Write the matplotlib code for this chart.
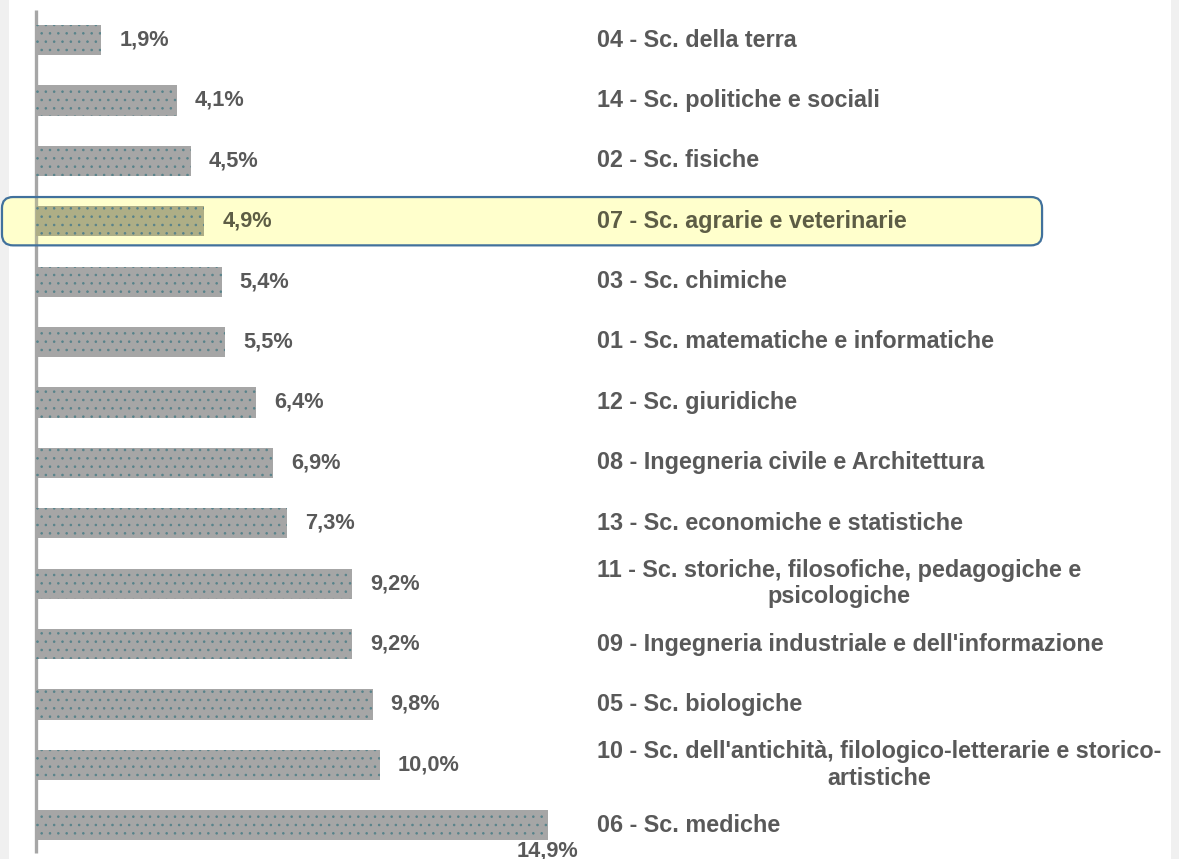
import matplotlib
matplotlib.use('Agg')
import matplotlib.pyplot as plt
from matplotlib.patches import FancyBboxPatch, Rectangle
from matplotlib.transforms import IdentityTransform

categories = [
    "04 - Sc. della terra",
    "14 - Sc. politiche e sociali",
    "02 - Sc. fisiche",
    "07 - Sc. agrarie e veterinarie",
    "03 - Sc. chimiche",
    "01 - Sc. matematiche e informatiche",
    "12 - Sc. giuridiche",
    "08 - Ingegneria civile e Architettura",
    "13 - Sc. economiche e statistiche",
    "11 - Sc. storiche, filosofiche, pedagogiche e\npsicologiche",
    "09 - Ingegneria industriale e dell'informazione",
    "05 - Sc. biologiche",
    "10 - Sc. dell'antichità, filologico-letterarie e storico-\nartistiche",
    "06 - Sc. mediche",
]
values = [1.9, 4.1, 4.5, 4.9, 5.4, 5.5, 6.4, 6.9, 7.3, 9.2, 9.2, 9.8, 10.0, 14.9]
highlight = 3  # 07 - agrarie

plt.rcParams['font.family'] = ['Liberation Sans', 'DejaVu Sans']
plt.rcParams['hatch.color'] = '#56828a'
plt.rcParams['hatch.linewidth'] = 0.6

W, H = 1179, 859
fig = plt.figure(figsize=(W / 100, H / 100), dpi=100)
ax = fig.add_axes([0, 0, 1, 1])
ax.set_axis_off()

# pixel mapping: x=0 at px 36, 34.36 px per %; rows 60.4 px apart, first at px 40
xpx, ypx = 34.36, 60.4
ax.set_xlim(-36 / xpx, (W - 36) / xpx)
ax.set_ylim((H - 40) / ypx, -40 / ypx)

# light grey page edges
fig.patches.append(Rectangle((0, 0), 9 / W, 1, transform=fig.transFigure,
                             facecolor='#f0f0f0', edgecolor='none', zorder=-1))
fig.patches.append(Rectangle((1171 / W, 0), 8 / W, 1, transform=fig.transFigure,
                             facecolor='#f0f0f0', edgecolor='none', zorder=-1))

txt = '#595959'
fs_val = 15.7
fs_cat = 16.8
rows = list(range(len(values)))

# highlight box behind
(x0, y0) = ax.transData.transform((-0.99, highlight + 0.4))
(x1, y1) = ax.transData.transform((29.28, highlight - 0.4))
box_face = FancyBboxPatch((x0, y0), x1 - x0, y1 - y0, boxstyle='round,pad=0,rounding_size=11',
                          transform=IdentityTransform(), facecolor='#ffffcc', edgecolor='none', zorder=1.5)
box_edge = FancyBboxPatch((x0, y0), x1 - x0, y1 - y0, boxstyle='round,pad=0,rounding_size=11',
                          transform=IdentityTransform(), facecolor='none', edgecolor='#41719c',
                          linewidth=1.6, zorder=5)
ax.add_artist(box_face)
ax.add_artist(box_edge)

# axis line
ax.vlines(0, -0.5, 13.46, color='#a6a6a6', linewidth=2.4, zorder=1)
ax.vlines(0, highlight - 0.4, highlight + 0.4, color='#b4b49a', linewidth=2.4, zorder=1.6)

colors = ['#aeae86' if i == highlight else '#a6a6a6' for i in rows]
ax.barh(rows, values, height=0.5, color=colors, hatch='..', zorder=2)

for i, (cat, v) in enumerate(zip(categories, values)):
    c = '#5d5d45' if i == highlight else txt
    lab = f"{v:.1f}".replace('.', ',') + '%'
    if i == len(values) - 1:
        ax.text(v, i + 0.25, lab, ha='center', va='top', fontsize=fs_val,
                fontweight='bold', color=c, zorder=3)
    else:
        ax.text(v + 0.52, i, lab, ha='left', va='center', fontsize=fs_val,
                fontweight='bold', color=c, zorder=3)
    ax.text(16.33, i, cat, ha='left', va='center', multialignment='center',
            fontsize=fs_cat, fontweight='bold', color=c, zorder=3, linespacing=1.2)

fig.savefig('out.png', dpi=100)
